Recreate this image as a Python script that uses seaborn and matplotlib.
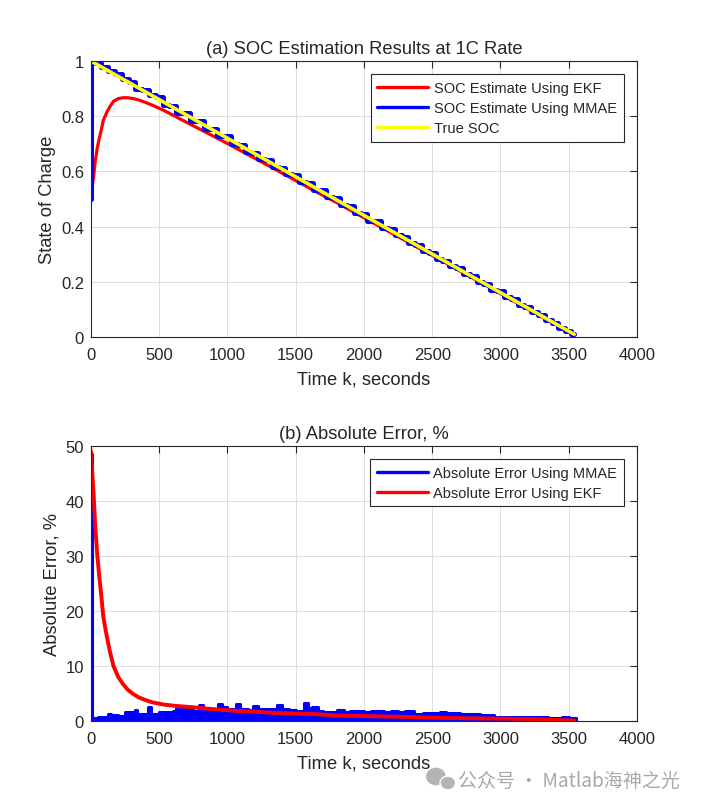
import numpy as np
import seaborn as sns
import matplotlib.pyplot as plt
from matplotlib.patches import Ellipse

# ---- data ----
# true SOC (straight discharge line)
true_t = [0, 3540]
true_soc = [1.0, 0.010]

# EKF estimate of SOC
ekf_t = [0, 10, 20, 30, 45, 60, 75, 90, 115, 140, 165, 200, 235, 270, 310, 350, 400, 450,
         530, 620, 700, 830, 1000, 1150, 1300, 1500, 1650, 1800, 2000, 2300, 2600, 2950,
         3270, 3450, 3540]
ekf_soc = [0.51, 0.547, 0.584, 0.632, 0.682, 0.718, 0.749, 0.785, 0.813, 0.836, 0.854, 0.864,
           0.867, 0.867, 0.864, 0.859, 0.850, 0.840, 0.822, 0.799, 0.778, 0.745, 0.701, 0.661,
           0.621, 0.567, 0.526, 0.487, 0.432, 0.350, 0.268, 0.171, 0.082, 0.033, 0.009]

# MMAE estimate of SOC (stepped, noisy around the true line)
mmae_t = [0, 2] + list(range(50, 3550, 50)) + [3540]
mmae_soc = [0.50, 0.999,
            0.992, 0.980, 0.963, 0.953, 0.934, 0.924, 0.899, 0.895, 0.876, 0.868,
            0.842, 0.838, 0.813, 0.811, 0.784, 0.781, 0.755, 0.754, 0.730, 0.727,
            0.698, 0.697, 0.672, 0.668, 0.645, 0.642, 0.616, 0.613, 0.590, 0.587,
            0.561, 0.557, 0.533, 0.531, 0.507, 0.502, 0.478, 0.475, 0.451, 0.446,
            0.422, 0.419, 0.395, 0.392, 0.368, 0.363, 0.339, 0.334, 0.312, 0.306,
            0.283, 0.277, 0.256, 0.250, 0.228, 0.221, 0.200, 0.193, 0.172, 0.165,
            0.144, 0.136, 0.116, 0.108, 0.089, 0.080, 0.061, 0.052, 0.033, 0.023,
            0.010]

# absolute error, %
ekf_err = [49, 45, 41, 36, 30.5, 26.5, 23, 19, 15.5, 12.5, 10, 8.0, 6.7, 5.7, 4.9, 4.3, 3.8,
           3.4, 3.0, 2.75, 2.6, 2.3, 1.95, 1.75, 1.55, 1.35, 1.25, 1.0, 0.9, 0.75, 0.55, 0.45,
           0.35, 0.15, 0.1]

mmae_err_t = [0, 5, 50, 100, 125, 150, 200, 250, 300, 320, 340, 400, 415, 440, 500, 550, 600,
              620, 650, 700, 750, 790, 820, 870, 930, 960, 1000, 1065, 1090, 1150, 1190, 1220,
              1280, 1300, 1360, 1400, 1450, 1500, 1560, 1590, 1620, 1660, 1700, 1800, 1850,
              1900, 1950, 2000, 2050, 2100, 2150, 2200, 2250, 2300, 2370, 2430, 2500, 2560,
              2600, 2700, 2800, 2850, 2950, 3050, 3150, 3270, 3350, 3450, 3500, 3550]
mmae_err = [48.5, 0.6, 0.7, 0.8, 1.3, 1.1, 1.0, 1.7, 1.6, 2.0, 1.2, 1.3, 2.5, 1.3, 1.6, 1.7, 1.9,
            2.3, 2.2, 2.2, 1.9, 2.9, 2.0, 2.2, 3.1, 2.6, 2.2, 3.1, 2.2, 2.0, 2.7, 2.1,
            2.2, 2.2, 2.9, 2.2, 2.0, 1.9, 3.2, 2.3, 2.5, 1.9, 1.7, 2.0, 1.7,
            1.9, 1.8, 1.6, 1.9, 1.8, 1.7, 1.9, 1.6, 1.9, 1.3, 1.5, 1.5, 1.6,
            1.4, 1.2, 1.3, 1.1, 0.8, 0.8, 0.75, 0.7, 0.55, 0.7, 0.5, 0.0]

x_ticks = [0, 500, 1000, 1500, 2000, 2500, 3000, 3500, 4000]
soc_ticks = [0, 0.2, 0.4, 0.6, 0.8, 1]
err_ticks = [0, 10, 20, 30, 40, 50]

# ---- style: MATLAB-like look ----
sns.set_theme(style='white')
plt.rcParams['font.family'] = ['Liberation Sans', 'DejaVu Sans']
ink = '#262626'
plt.rcParams.update({
    'axes.edgecolor': ink, 'axes.linewidth': 0.8,
    'xtick.color': ink, 'ytick.color': ink,
    'xtick.direction': 'in', 'ytick.direction': 'in',
    'xtick.top': True, 'ytick.right': True,
    'xtick.major.size': 5, 'ytick.major.size': 5,
    'xtick.major.width': 0.8, 'ytick.major.width': 0.8,
    'xtick.major.pad': 7.5, 'ytick.major.pad': 5,
    'xtick.labelsize': 12, 'ytick.labelsize': 12,
    'text.color': ink, 'axes.labelcolor': ink,
})

fig = plt.figure(figsize=(7.03, 8.12), dpi=100)
ax1 = fig.add_axes([0.1294, 0.5837, 0.7767, 0.3399])
ax2 = fig.add_axes([0.1294, 0.1108, 0.7767, 0.3387])


def matlab_axes(ax, yticks, ylim, title, ylabel):
    ax.set_xlim(0, 4000)
    ax.set_ylim(*ylim)
    ax.set_xticks(x_ticks)
    ax.set_yticks(yticks)
    ax.set_yticklabels([f'{v:g}' for v in yticks])
    ax.grid(True, color='#dcdcdc', linewidth=0.7)
    ax.set_axisbelow(True)
    ax.set_title(title, fontsize=13.2, pad=6)
    ax.set_xlabel('Time k, seconds', fontsize=13.2, labelpad=6)
    ax.set_ylabel(ylabel, fontsize=13.2, labelpad=3.5)
    for s in ax.spines.values():
        s.set_visible(True)
    leg = ax.legend(loc='upper right', fontsize=10.5, fancybox=False, framealpha=1,
                    edgecolor=ink, handlelength=3.5, borderaxespad=0.9,
                    labelspacing=0.42, handletextpad=0.4, borderpad=0.45)
    leg.get_frame().set_linewidth(0.8)
    for ln in leg.get_lines():
        ln.set_linewidth(2.4)


# (a) SOC
sns.lineplot(x=ekf_t, y=ekf_soc, ax=ax1, color='red', lw=2.3, estimator=None, sort=False,
             label='SOC Estimate Using EKF')
sns.lineplot(x=mmae_t, y=mmae_soc, ax=ax1, color='blue', lw=3.6, estimator=None, sort=False,
             drawstyle='steps-mid', label='SOC Estimate Using MMAE')
sns.lineplot(x=true_t, y=true_soc, ax=ax1, color='yellow', lw=2.6, estimator=None, sort=False,
             label='True SOC')
matlab_axes(ax1, soc_ticks, (0, 1), '(a) SOC Estimation Results at 1C Rate', 'State of Charge')

# (b) absolute error
ax2.fill_between(mmae_err_t, 0, mmae_err, step='post', color='blue', lw=0)
sns.lineplot(x=mmae_err_t, y=mmae_err, ax=ax2, color='blue', lw=2.2, estimator=None, sort=False,
             drawstyle='steps-post', label='Absolute Error Using MMAE')
sns.lineplot(x=ekf_t, y=ekf_err, ax=ax2, color='red', lw=2.8, estimator=None, sort=False,
             label='Absolute Error Using EKF')
matlab_axes(ax2, err_ticks, (0, 50), '(b) Absolute Error, %', 'Absolute Error, %')

# watermark (chat-bubble icon + text)
wm = '#b4b4b4'
fig.patches.append(Ellipse((0.620, 0.0425), 0.026, 0.020, transform=fig.transFigure,
                           color=wm, zorder=5))
fig.patches.append(Ellipse((0.637, 0.0345), 0.022, 0.017, transform=fig.transFigure,
                           color=wm, ec='white', lw=1.0, zorder=6))
fig.text(0.652, 0.037, '公众号 · Matlab海神之光', fontsize=13.7, color='#a8a8a8',
         family=['Noto Sans CJK SC', 'DejaVu Sans'], va='center')

fig.savefig('out.png', dpi=100)
